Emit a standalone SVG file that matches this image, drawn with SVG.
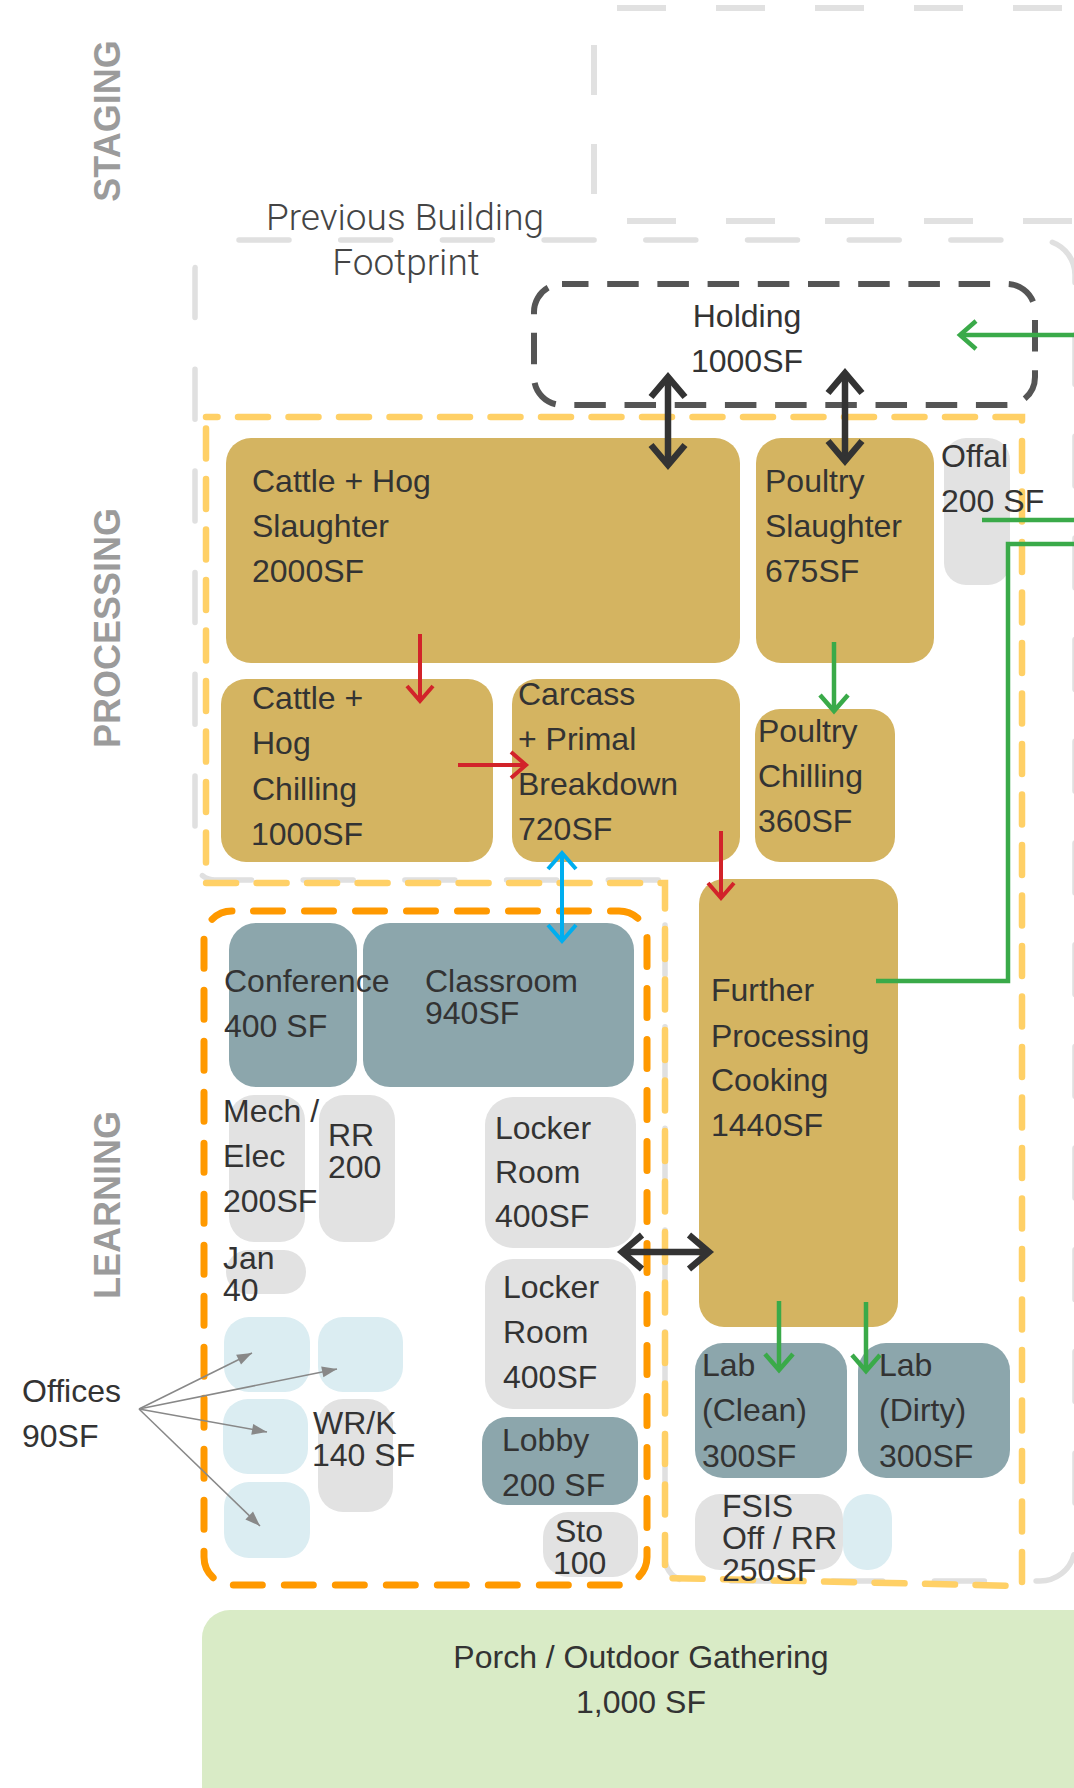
<svg xmlns="http://www.w3.org/2000/svg" width="1074" height="1788" viewBox="0 0 1074 1788">
<style>
.lbl{font-family:"Liberation Sans",Arial,sans-serif;font-size:32px;fill:#333}
.zone{font-family:"Liberation Sans",Arial,sans-serif;font-size:36px;font-weight:bold;fill:#9b9b9b}
.thin{font-family:Roboto,"Liberation Sans",sans-serif;font-weight:300;font-size:37px;fill:#444}
.gold{fill:#D4B461}
.teal{fill:#8CA6AC}
.grey{fill:#E2E2E2}
.blue{fill:#DBEDF2}
.stg{stroke:#E1E1E1;stroke-width:6;fill:none;stroke-dasharray:49 50}
.blk{stroke:#333;stroke-width:6.5;fill:none}
.red{stroke:#D2232A;stroke-width:4;fill:none}
.grn{stroke:#3AAA49;stroke-width:4.5;fill:none}
.cyn{stroke:#00AEEF;stroke-width:4;fill:none}
.off{stroke:#888;stroke-width:1.5;fill:none}
</style>
<defs>
<marker id="mBlk" markerUnits="userSpaceOnUse" viewBox="-25 -22 30 44" markerWidth="30" markerHeight="44" refX="0" refY="0" orient="auto-start-reverse" overflow="visible">
<path d="M-20,-17 L0,0 L-20,17" fill="none" stroke="#333" stroke-width="6.5"/>
</marker>
<marker id="mRed" markerUnits="userSpaceOnUse" viewBox="-20 -18 24 36" markerWidth="24" markerHeight="36" refX="0" refY="0" orient="auto-start-reverse" overflow="visible">
<path d="M-15,-13 L0,0 L-15,13" fill="none" stroke="#D2232A" stroke-width="4"/>
</marker>
<marker id="mGrn" markerUnits="userSpaceOnUse" viewBox="-20 -18 24 36" markerWidth="24" markerHeight="36" refX="0" refY="0" orient="auto-start-reverse" overflow="visible">
<path d="M-16,-14 L0,0 L-16,14" fill="none" stroke="#3AAA49" stroke-width="4.5"/>
</marker>
<marker id="mCyn" markerUnits="userSpaceOnUse" viewBox="-20 -18 24 36" markerWidth="24" markerHeight="36" refX="0" refY="0" orient="auto-start-reverse" overflow="visible">
<path d="M-16,-14 L0,0 L-16,14" fill="none" stroke="#00AEEF" stroke-width="4"/>
</marker>
<marker id="mOff" markerUnits="userSpaceOnUse" viewBox="-16 -7 18 14" markerWidth="18" markerHeight="14" refX="0" refY="0" orient="auto" overflow="visible">
<path d="M0,0 L-15,-5.5 L-15,5.5 Z" fill="#888"/>
</marker>
</defs>

<g id="zones">
<text class="zone" text-anchor="middle" transform="translate(120,121) rotate(-90)">STAGING</text>
<text class="zone" text-anchor="middle" transform="translate(120,628) rotate(-90)">PROCESSING</text>
<text class="zone" text-anchor="middle" transform="translate(120,1205) rotate(-90)">LEARNING</text>
</g>

<g id="staging-area">
<line class="stg" x1="617" y1="8" x2="1074" y2="8"/>
<line class="stg" x1="627" y1="221" x2="1074" y2="221"/>
<line class="stg" x1="594" y1="45" x2="594" y2="194" style="stroke-dasharray:50 49"/>
</g>

<g id="previous-footprint">
<path d="M225,240 H1040 A35,35 0 0 1 1075,275 V1546 A35,35 0 0 1 1040,1581 H688 A23,23 0 0 1 665,1558 V880 H215 A20,20 0 0 1 195,860 V270 A30,30 0 0 1 225,240 Z" fill="none" stroke="#E0E0E0" stroke-width="5.5" stroke-linecap="round" stroke-dasharray="50 51.7" stroke-dashoffset="87.7"/>
<text class="thin" text-anchor="middle" x="405" y="230">Previous Building</text>
<text class="thin" text-anchor="middle" x="406" y="275">Footprint</text>
</g>

<g id="processing-boundary">
<path d="M206,417 H1022 V1586 L665,1578 V883 H206 Z" fill="none" stroke="#FFD066" stroke-width="6.5" stroke-linecap="round" stroke-dasharray="30 20.5" stroke-dashoffset="18.5"/>
</g>

<g id="learning-boundary">
<rect x="204" y="911" width="443" height="674" rx="28" fill="none" stroke="#FF9900" stroke-width="7" stroke-linecap="round" stroke-dasharray="29 22" stroke-dashoffset="29.5"/>
</g>

<g id="holding">
<rect x="534" y="284" width="501" height="121" rx="28" fill="none" stroke="#555" stroke-width="6" stroke-dasharray="31.5 18.7" stroke-dashoffset="5"/>
<text class="lbl" text-anchor="middle" x="747" y="327">Holding</text>
<text class="lbl" text-anchor="middle" x="747" y="372">1000SF</text>
</g>

<g id="cattle-hog-slaughter">
<rect class="gold" x="226" y="438" width="514" height="225" rx="25"/>
<text class="lbl" x="252" y="492">Cattle + Hog</text>
<text class="lbl" x="252" y="537">Slaughter</text>
<text class="lbl" x="252" y="582">2000SF</text>
</g>

<g id="poultry-slaughter">
<rect class="gold" x="756" y="438" width="178" height="225" rx="25"/>
<text class="lbl" x="765" y="492">Poultry</text>
<text class="lbl" x="765" y="537">Slaughter</text>
<text class="lbl" x="765" y="582">675SF</text>
</g>

<g id="offal">
<rect class="grey" x="944" y="438" width="66" height="147" rx="22"/>
<text class="lbl" x="941" y="467">Offal</text>
<text class="lbl" x="941" y="512">200 SF</text>
</g>

<g id="cattle-hog-chilling">
<rect class="gold" x="221" y="679" width="272" height="183" rx="25"/>
<text class="lbl" x="252" y="709">Cattle +</text>
<text class="lbl" x="252" y="754">Hog</text>
<text class="lbl" x="252" y="800">Chilling</text>
<text class="lbl" x="251" y="845">1000SF</text>
</g>

<g id="carcass-breakdown">
<rect class="gold" x="512" y="679" width="228" height="183" rx="25"/>
<text class="lbl" x="518" y="705">Carcass</text>
<text class="lbl" x="518" y="750">+ Primal</text>
<text class="lbl" x="518" y="795">Breakdown</text>
<text class="lbl" x="518" y="840">720SF</text>
</g>

<g id="poultry-chilling">
<rect class="gold" x="755" y="709" width="140" height="153" rx="25"/>
<text class="lbl" x="758" y="742">Poultry</text>
<text class="lbl" x="758" y="787">Chilling</text>
<text class="lbl" x="758" y="832">360SF</text>
</g>

<g id="further-processing">
<rect class="gold" x="699" y="879" width="199" height="448" rx="25"/>
<text class="lbl" x="711" y="1001">Further</text>
<text class="lbl" x="711" y="1047">Processing</text>
<text class="lbl" x="711" y="1091">Cooking</text>
<text class="lbl" x="711" y="1136">1440SF</text>
</g>

<g id="classroom">
<rect class="teal" x="363" y="923" width="271" height="164" rx="27"/>
<text class="lbl" x="425" y="992">Classroom</text>
<text class="lbl" x="425" y="1024">940SF</text>
</g>

<g id="conference">
<rect class="teal" x="229" y="923" width="128" height="164" rx="27"/>
<text class="lbl" x="224" y="992">Conference</text>
<text class="lbl" x="224" y="1037">400 SF</text>
</g>

<g id="rr">
<rect class="grey" x="319" y="1095" width="76" height="147" rx="25"/>
<text class="lbl" x="328" y="1146">RR</text>
<text class="lbl" x="328" y="1178">200</text>
</g>

<g id="mech-elec">
<rect class="grey" x="229" y="1095" width="76" height="147" rx="25"/>
<text class="lbl" x="223" y="1122">Mech /</text>
<text class="lbl" x="223" y="1167">Elec</text>
<text class="lbl" x="223" y="1212">200SF</text>
</g>

<g id="jan">
<rect class="grey" x="226" y="1250" width="80" height="44" rx="22"/>
<text class="lbl" x="223" y="1269">Jan</text>
<text class="lbl" x="223" y="1301">40</text>
</g>

<g id="locker-room-1">
<rect class="grey" x="485" y="1097" width="151" height="151" rx="28"/>
<text class="lbl" x="495" y="1139">Locker</text>
<text class="lbl" x="495" y="1183">Room</text>
<text class="lbl" x="495" y="1227">400SF</text>
</g>

<g id="locker-room-2">
<rect class="grey" x="485" y="1259" width="151" height="150" rx="28"/>
<text class="lbl" x="503" y="1298">Locker</text>
<text class="lbl" x="503" y="1343">Room</text>
<text class="lbl" x="503" y="1388">400SF</text>
</g>

<g id="lobby">
<rect class="teal" x="482" y="1417" width="156" height="88" rx="25"/>
<text class="lbl" x="502" y="1451">Lobby</text>
<text class="lbl" x="502" y="1496">200 SF</text>
</g>

<g id="sto">
<rect class="grey" x="543" y="1512" width="95" height="65" rx="25"/>
<text class="lbl" x="555" y="1542">Sto</text>
<text class="lbl" x="553" y="1574">100</text>
</g>

<g id="office-1"><rect class="blue" x="224" y="1317" width="86" height="75" rx="25"/></g>
<g id="office-2"><rect class="blue" x="318" y="1317" width="85" height="75" rx="25"/></g>
<g id="office-3"><rect class="blue" x="223" y="1399" width="85" height="75" rx="25"/></g>
<g id="office-4"><rect class="blue" x="224" y="1482" width="86" height="76" rx="25"/></g>

<g id="wr-k">
<rect class="grey" x="318" y="1399" width="75" height="113" rx="25"/>
<text class="lbl" x="313" y="1434">WR/K</text>
<text class="lbl" x="312" y="1466">140 SF</text>
</g>

<g id="offices-label">
<text class="lbl" x="22" y="1402">Offices</text>
<text class="lbl" x="22" y="1447">90SF</text>
</g>

<g id="lab-clean">
<rect class="teal" x="695" y="1343" width="152" height="135" rx="28"/>
<text class="lbl" x="702" y="1376">Lab</text>
<text class="lbl" x="702" y="1421">(Clean)</text>
<text class="lbl" x="702" y="1467">300SF</text>
</g>

<g id="lab-dirty">
<rect class="teal" x="858" y="1343" width="152" height="135" rx="28"/>
<text class="lbl" x="879" y="1376">Lab</text>
<text class="lbl" x="879" y="1421">(Dirty)</text>
<text class="lbl" x="879" y="1467">300SF</text>
</g>

<g id="fsis">
<rect class="grey" x="695" y="1494" width="148" height="76" rx="25"/>
<text class="lbl" x="722" y="1517">FSIS</text>
<text class="lbl" x="722" y="1549">Off / RR</text>
<text class="lbl" x="722" y="1581">250SF</text>
</g>

<g id="fsis-small"><rect class="blue" x="843" y="1494" width="49" height="76" rx="24"/></g>

<g id="porch">
<rect x="202" y="1610" width="920" height="240" rx="28" fill="#D9EBC6"/>
<text class="lbl" text-anchor="middle" x="641" y="1668">Porch / Outdoor Gathering</text>
<text class="lbl" text-anchor="middle" x="641" y="1713">1,000 SF</text>
</g>

<g id="connectors">
<line class="blk" x1="668" y1="377" x2="668" y2="465" marker-start="url(#mBlk)" marker-end="url(#mBlk)"/>
<line class="blk" x1="845" y1="373" x2="845" y2="461" marker-start="url(#mBlk)" marker-end="url(#mBlk)"/>
<line class="blk" x1="622" y1="1252" x2="709" y2="1252" marker-start="url(#mBlk)" marker-end="url(#mBlk)"/>
<line class="red" x1="420" y1="634" x2="420" y2="701" marker-end="url(#mRed)"/>
<line class="red" x1="458" y1="765" x2="526" y2="765" marker-end="url(#mRed)"/>
<line class="red" x1="721" y1="831" x2="721" y2="898" marker-end="url(#mRed)"/>
<line class="grn" x1="834" y1="642" x2="834" y2="711" marker-end="url(#mGrn)"/>
<line class="grn" x1="1080" y1="335" x2="960" y2="335" marker-end="url(#mGrn)"/>
<line class="grn" x1="982" y1="520" x2="1080" y2="520"/>
<path class="grn" d="M876,981 H1008 V544 H1080"/>
<line class="grn" x1="779" y1="1301" x2="779" y2="1370" marker-end="url(#mGrn)"/>
<line class="grn" x1="866" y1="1302" x2="866" y2="1371" marker-end="url(#mGrn)"/>
<line class="cyn" x1="562" y1="853" x2="562" y2="941" marker-start="url(#mCyn)" marker-end="url(#mCyn)"/>
<line class="off" x1="139" y1="1409" x2="252" y2="1353" marker-end="url(#mOff)"/>
<line class="off" x1="139" y1="1409" x2="337" y2="1369" marker-end="url(#mOff)"/>
<line class="off" x1="139" y1="1409" x2="267" y2="1432" marker-end="url(#mOff)"/>
<line class="off" x1="139" y1="1409" x2="260" y2="1526" marker-end="url(#mOff)"/>
</g>
</svg>
